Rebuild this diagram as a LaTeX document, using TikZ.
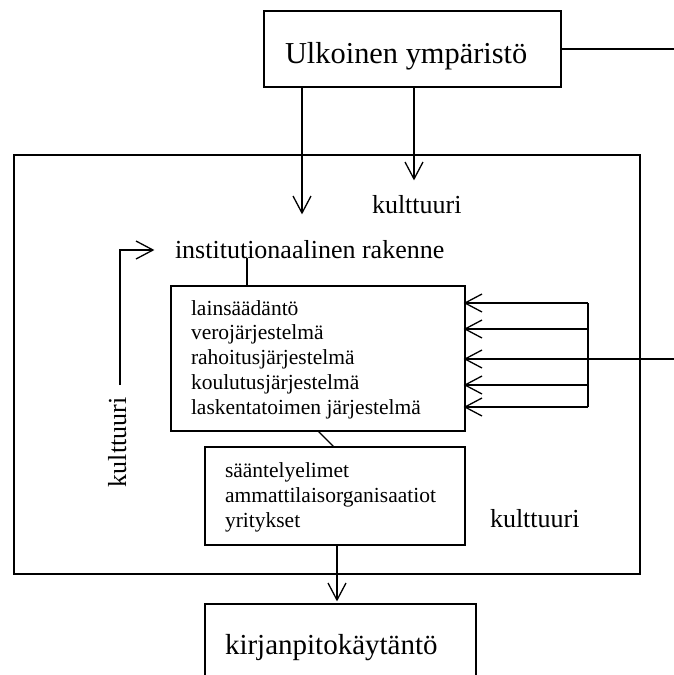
\documentclass[tikz,border=0pt]{standalone}
\usepackage{fontspec}
\setmainfont{Liberation Serif}
\usetikzlibrary{arrows.meta}
% open chevron tip with straight arms
\pgfdeclarearrow{
  name = Chevron,
  setup code = {
    \pgfarrowssettipend{0pt}
    \pgfarrowssetlineend{-0.8pt}
    \pgfarrowshullpoint{0pt}{0pt}
    \pgfarrowsupperhullpoint{-17pt}{9pt}
  },
  drawing code = {
    \pgfsetdash{}{0pt}
    \pgfsetmiterjoin
    \pgfpathmoveto{\pgfpoint{-17pt}{9pt}}
    \pgfpathlineto{\pgfpointorigin}
    \pgfpathlineto{\pgfpoint{-17pt}{-9pt}}
    \pgfusepathqstroke
  }
}
\begin{document}
\begin{tikzpicture}[x=1pt,y=-1pt,
  every node/.style={inner sep=0pt, outer sep=0pt},
  box/.style={draw, line width=1.3pt, rectangle, anchor=north west},
  wire/.style={line width=1.3pt},
  arr/.style={wire, -Chevron},
  small/.style={anchor=base west, align=left, font=\fontsize{21.5}{24.75}\selectfont},
  big/.style={anchor=base west, font=\fontsize{26}{30}\selectfont},
]
\useasboundingbox (0,0) rectangle (674,675);
\clip (0,0) rectangle (674,675);

% frames
\node[box, minimum width=297pt, minimum height=76pt] (env) at (264,11) {};
\node[box, minimum width=626pt, minimum height=419pt] (org) at (14,155) {};
\node[box, minimum width=294pt, minimum height=145pt] (box1) at (171,286) {};
\node[box, minimum width=260pt, minimum height=98pt] (box2) at (205,447) {};
\node[box, minimum width=271pt, minimum height=100pt] (out) at (205,604) {};

% labels (multi-line nodes are placed by the baseline of their last line)
\node[anchor=base west, font=\fontsize{30.4}{34}\selectfont] (envtxt) at (285,63) {Ulkoinen ympäristö};
\node[big] (kult1) at (372,213) {kulttuuri};
\node[big] (inst) at (175,258) {institutionaalinen rakenne};
\node[small] (list1) at (191,414) {lainsäädäntö\\verojärjestelmä\\rahoitusjärjestelmä\\koulutusjärjestelmä\\laskentatoimen järjestelmä};
\node[small] (list2) at (225,527) {sääntelyelimet\\ammattilaisorganisaatiot\\yritykset};
\node[big] (kult2) at (490,527) {kulttuuri};
\node[big, rotate=90] (kult3) at (126,487) {kulttuuri};
\node[anchor=base west, font=\fontsize{29}{33}\selectfont] (outtxt) at (225,654) {kirjanpitokäytäntö};

% connector ends
\coordinate (a1) at (302,213);
\coordinate (a2) at (414,179);
\coordinate (envR) at (674,49);
\coordinate (busR) at (674,359);
\coordinate (loopB) at (120,385);
\coordinate (loopT) at (153,250);
\coordinate (instB) at (247,258);
\coordinate (diagA) at (318,431);
\coordinate (diagB) at (334,447);
\coordinate (down) at (337,600);

% environment influence
\draw[arr] (env.south -| a1) -- (a1);
\draw[arr] (env.south -| a2) -- (a2);
\draw[wire] (env.east |- envR) -- (envR);

% culture loop on the left
\draw[arr] (loopB) |- (loopT);

% institutional structure
\draw[wire] (instB) -- (box1.north -| instB);
\draw[wire] (diagA) -- (diagB);

% feed bus into the institutions
\draw[arr] (busR) -- (box1.east |- busR);
\draw[wire] (588,303) -- (588,407);
\foreach \yy in {303,329,385,407}
  \draw[arr] (588,\yy) -- (box1.east |- 0,\yy);

% outcome
\draw[arr] (box2.south -| down) -- (down);
\end{tikzpicture}
\end{document}
